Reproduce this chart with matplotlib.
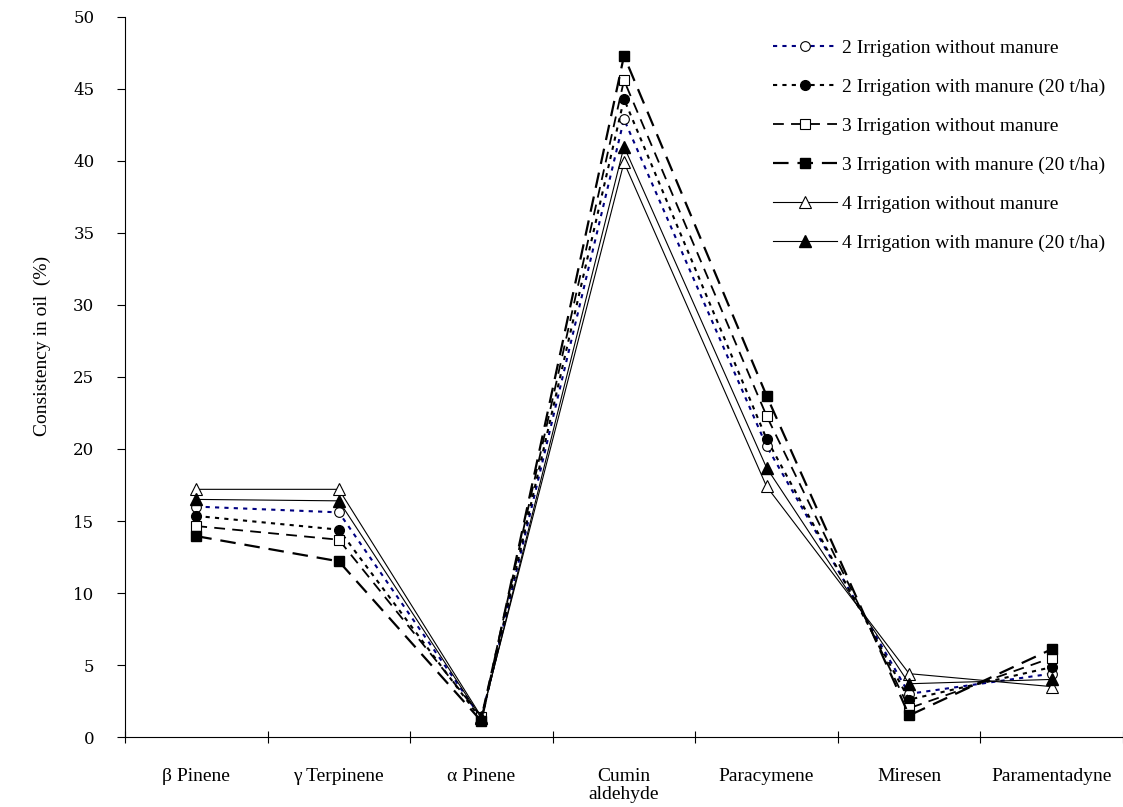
import numpy as np
import matplotlib
matplotlib.use('Agg')
from matplotlib import pyplot as plt

plt.rcParams['font.family'] = ['Liberation Serif', 'DejaVu Serif']

# Data
compounds = ['\u03b2 Pinene', '\u03b3 Terpinene', '\u03b1 Pinene', 'Cumin\naldehyde',
             'Paracymene', 'Miresen', 'Paramentadyne']

irr2_no = [16.0, 15.6, 1.3, 42.9, 20.2, 3.0, 4.4]
irr2_manure = [15.35, 14.4, 1.2, 44.3, 20.7, 2.6, 4.85]
irr3_no = [14.65, 13.7, 1.4, 45.6, 22.3, 2.0, 5.5]
irr3_manure = [13.95, 12.2, 1.1, 47.3, 23.7, 1.5, 6.1]
irr4_no = [17.2, 17.2, 1.4, 39.9, 17.4, 4.4, 3.5]
irr4_manure = [16.5, 16.4, 1.3, 41.0, 18.7, 3.7, 4.0]

labels = ['2 Irrigation without manure',
          '2 Irrigation with manure (20 t/ha)',
          '3 Irrigation without manure',
          '3 Irrigation with manure (20 t/ha)',
          '4 Irrigation without manure',
          '4 Irrigation with manure (20 t/ha)']

x = np.arange(len(compounds))

fig = plt.figure(figsize=(11.23, 8.07), dpi=100)
ax = fig.add_axes([0.1113, 0.0867, 0.8887, 0.8923])

ax.plot(x, irr2_no, color='#000080', linestyle=(0, (2, 2.5)), lw=1.5,
        marker='o', ms=7, mfc='white', mec='black', mew=0.8, label=labels[0])
ax.plot(x, irr2_manure, color='black', linestyle=(0, (2, 2.5)), lw=1.5,
        marker='o', ms=7, mfc='black', mec='black', label=labels[1])
ax.plot(x, irr3_no, color='black', linestyle=(0, (6, 4)), lw=1.3,
        marker='s', ms=7, mfc='white', mec='black', mew=0.8, label=labels[2])
ax.plot(x, irr3_manure, color='black', linestyle=(0, (7, 4)), lw=1.6,
        marker='s', ms=7, mfc='black', mec='black', label=labels[3])
ax.plot(x, irr4_no, color='black', linestyle='-', lw=0.8,
        marker='^', ms=8, mfc='white', mec='black', mew=0.8, label=labels[4])
ax.plot(x, irr4_manure, color='black', linestyle='-', lw=0.8,
        marker='^', ms=8, mfc='black', mec='black', label=labels[5])

ax.set_xlim(-0.5, len(compounds) - 0.5)
ax.set_ylim(0, 50)
ax.set_yticks(np.arange(0, 51, 5))
ax.set_yticklabels([str(v) for v in range(0, 51, 5)], fontfamily='DejaVu Serif', fontsize=12)
ax.set_xticks(x)
ax.set_xticklabels(compounds, fontsize=14, linespacing=1.1)
ax.set_xticks(np.arange(-0.5, len(compounds), 1), minor=True)
ax.tick_params(axis='x', which='major', length=0, pad=22)
ax.tick_params(axis='x', which='minor', length=8, direction='inout', width=0.8)
ax.tick_params(axis='y', length=6, direction='out', width=0.8, pad=16)

for side in ['top', 'right']:
    ax.spines[side].set_visible(False)
ax.spines['left'].set_linewidth(0.8)
ax.spines['bottom'].set_linewidth(0.8)

ax.set_ylabel('Consistency in oil  (%)', fontsize=14)
ax.yaxis.set_label_coords(-0.074, 0.543)

ax.legend(loc='upper right', bbox_to_anchor=(1.0, 0.993), frameon=False,
          fontsize=14, handlelength=3.3, handletextpad=0.25, labelspacing=1.1)

plt.savefig('out.png', dpi=100)
